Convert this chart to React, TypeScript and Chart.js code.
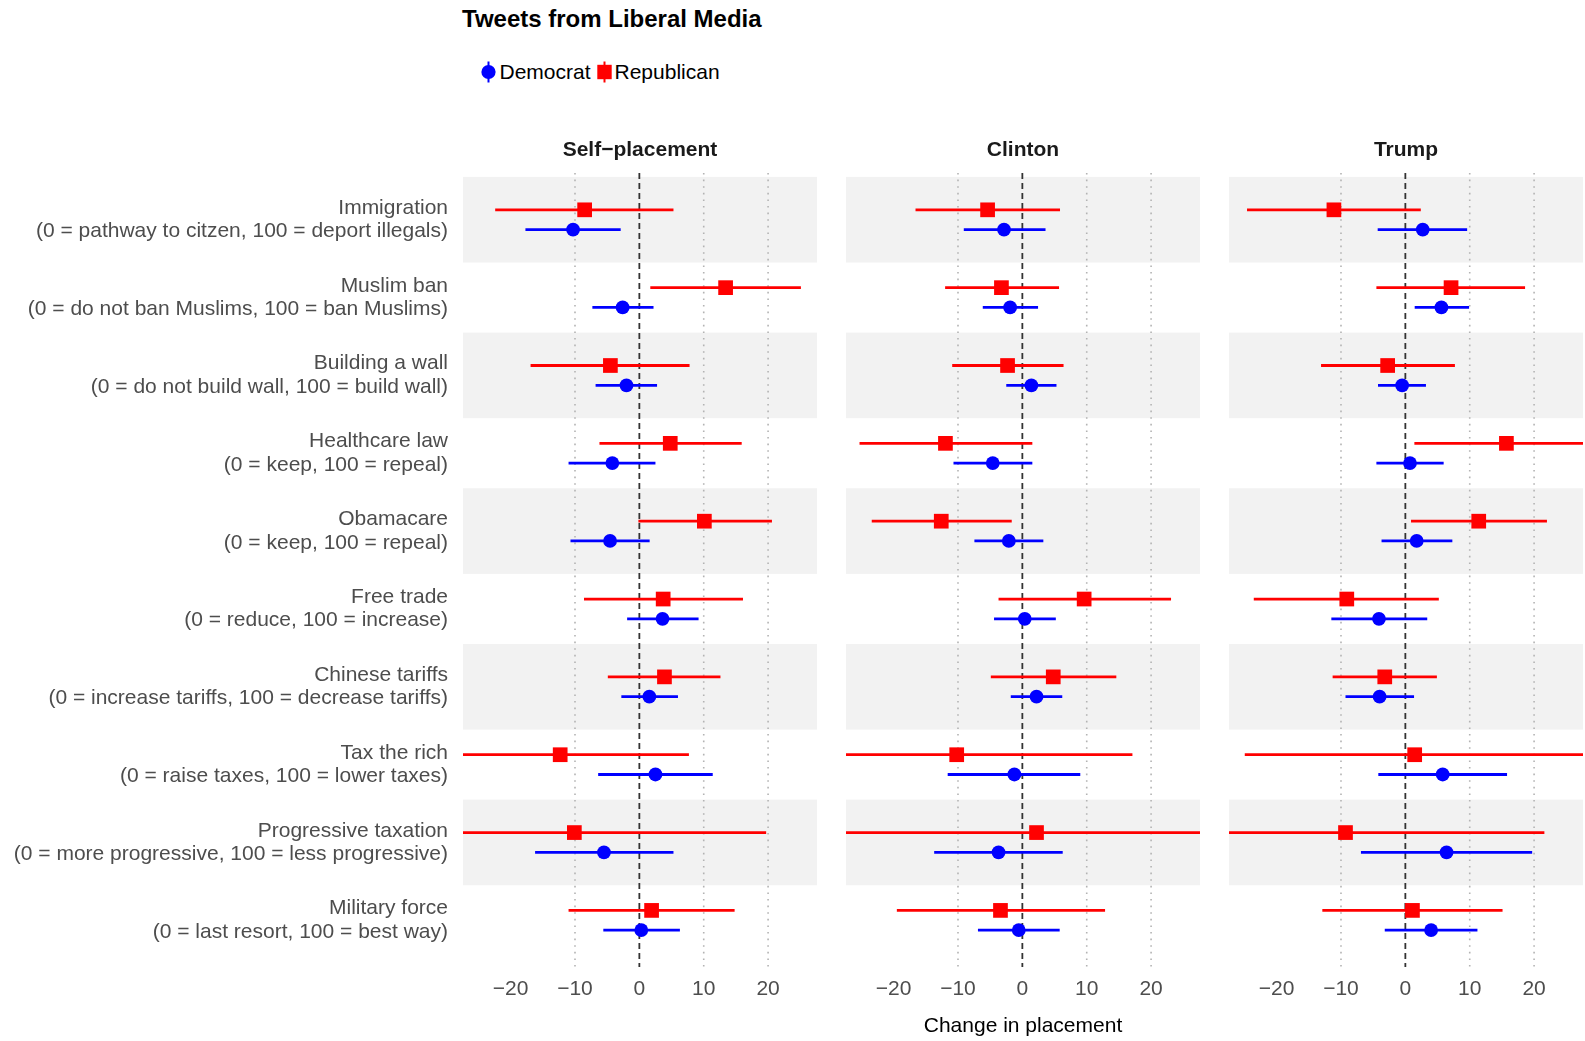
import React, { useEffect, useRef } from 'react';
import { Chart, registerables } from 'chart.js';

Chart.register(...registerables);

const FONT = '"Liberation Sans", Arial, Helvetica, sans-serif';
const RED = '#ff0000';
const BLUE = '#0000ff';

// ---------- data ----------
const issueNames = [
  'Immigration',
  'Muslim ban',
  'Building a wall',
  'Healthcare law',
  'Obamacare',
  'Free trade',
  'Chinese tariffs',
  'Tax the rich',
  'Progressive taxation',
  'Military force',
];
const issueScales = [
  '(0 = pathway to citzen, 100 = deport illegals)',
  '(0 = do not ban Muslims, 100 = ban Muslims)',
  '(0 = do not build wall, 100 = build wall)',
  '(0 = keep, 100 = repeal)',
  '(0 = keep, 100 = repeal)',
  '(0 = reduce, 100 = increase)',
  '(0 = increase tariffs, 100 = decrease tariffs)',
  '(0 = raise taxes, 100 = lower taxes)',
  '(0 = more progressive, 100 = less progressive)',
  '(0 = last resort, 100 = best way)',
];
const panelTitles = ['Self\u2212placement', 'Clinton', 'Trump'];
const seriesNames = ['Democrat', 'Republican'];
const xTicks = [-20, -10, 0, 10, 20];
const dottedRefs = [-10, 10, 20];
const dashedRefs = [0];

// Self-placement
const selfDemEst = [-10.3, -2.6, -2.0, -4.2, -4.55, 3.6, 1.55, 2.5, -5.5, 0.3];
const selfDemLo = [-17.7, -7.3, -6.8, -11.0, -10.7, -1.9, -2.8, -6.4, -16.2, -5.6];
const selfDemHi = [-2.9, 2.2, 2.75, 2.5, 1.6, 9.2, 6.0, 11.4, 5.3, 6.3];
const selfRepEst = [-8.5, 13.4, -4.5, 4.8, 10.1, 3.7, 3.9, -12.3, -10.1, 1.9];
const selfRepLo = [-22.4, 1.7, -16.9, -6.2, -0.15, -8.6, -4.9, -32.3, -39.9, -11.0];
const selfRepHi = [5.3, 25.1, 7.8, 15.9, 20.6, 16.1, 12.6, 7.7, 19.7, 14.8];

// Clinton
const clintonDemEst = [-2.85, -1.9, 1.4, -4.6, -2.1, 0.37, 2.2, -1.24, -3.7, -0.56];
const clintonDemLo = [-9.1, -6.15, -2.5, -10.7, -7.45, -4.4, -1.8, -11.6, -13.7, -6.9];
const clintonDemHi = [3.6, 2.44, 5.3, 1.55, 3.26, 5.2, 6.2, 9.0, 6.27, 5.8];
const clintonRepEst = [-5.4, -3.25, -2.3, -11.95, -12.6, 9.6, 4.8, -10.2, 2.2, -3.4];
const clintonRepLo = [-16.6, -12.0, -10.9, -25.3, -23.4, -3.7, -4.9, -37.5, -29.8, -19.5];
const clintonRepHi = [5.85, 5.7, 6.4, 1.55, -1.65, 23.1, 14.6, 17.1, 34.2, 12.85];

// Trump
const trumpDemEst = [2.7, 5.6, -0.5, 0.72, 1.76, -4.1, -4.0, 5.8, 6.4, 4.0];
const trumpDemLo = [-4.3, 1.45, -4.25, -4.5, -3.7, -11.5, -9.3, -4.2, -6.9, -3.2];
const trumpDemHi = [9.6, 9.9, 3.2, 5.95, 7.3, 3.4, 1.35, 15.8, 19.7, 11.2];
const trumpRepEst = [-11.1, 7.1, -2.75, 15.7, 11.4, -9.1, -3.2, 1.45, -9.3, 1.1];
const trumpRepLo = [-24.6, -4.5, -13.1, 1.4, 0.88, -23.55, -11.3, -24.95, -40.2, -12.9];
const trumpRepHi = [2.4, 18.6, 7.7, 30.0, 22.0, 5.2, 4.9, 27.85, 21.6, 15.1];

const panelData = [
  { demEst: selfDemEst, demLo: selfDemLo, demHi: selfDemHi, repEst: selfRepEst, repLo: selfRepLo, repHi: selfRepHi },
  { demEst: clintonDemEst, demLo: clintonDemLo, demHi: clintonDemHi, repEst: clintonRepEst, repLo: clintonRepLo, repHi: clintonRepHi },
  { demEst: trumpDemEst, demLo: trumpDemLo, demHi: trumpDemHi, repEst: trumpRepEst, repLo: trumpRepLo, repHi: trumpRepHi },
];

// ---------- layout ----------
const X_MIN = -27.4;
const X_MAX = 27.6;
const Y_MIN = 0.4;
const Y_MAX = 10.6;
const DODGE = 0.127;
const BAND_HALF = 0.55;
const CANVAS_TOP = 110;
const CANVAS_H = 931;
const panelBoxes = [
  { left: 0, width: 817, yAxisWidth: 463 },
  { left: 846, width: 354, yAxisWidth: 0 },
  { left: 1229, width: 354, yAxisWidth: 0 },
];

const bandsPlugin = {
  id: 'bands',
  beforeDatasetsDraw(chart: any) {
    const { ctx, chartArea, scales } = chart;
    const y = scales.y;
    ctx.save();
    ctx.fillStyle = '#f2f2f2';
    issueNames.forEach((_, r) => {
      if (r % 2 !== 0) return;
      const t = y.getPixelForValue(r + 1 - BAND_HALF);
      const b = y.getPixelForValue(r + 1 + BAND_HALF);
      ctx.fillRect(chartArea.left, Math.min(t, b), chartArea.width, Math.abs(b - t));
    });
    ctx.restore();
  },
};

function buildConfig(i: number): any {
  const d = panelData[i];
  const datasets: any[] = [];
  datasets.push({
    label: seriesNames[1],
    data: issueNames.map((_, r) => ({ x: d.repEst[r], y: r + 1 - DODGE })),
    showLine: false,
    pointStyle: 'rect',
    pointRadius: 10.4,
    backgroundColor: RED,
    borderWidth: 0,
    order: 0,
  });
  datasets.push({
    label: seriesNames[0],
    data: issueNames.map((_, r) => ({ x: d.demEst[r], y: r + 1 + DODGE })),
    showLine: false,
    pointStyle: 'circle',
    pointRadius: 6.9,
    backgroundColor: BLUE,
    borderWidth: 0,
    order: 0,
  });
  issueNames.forEach((_, r) => {
    datasets.push({
      label: 'rep-ci-' + r,
      data: [
        { x: d.repLo[r], y: r + 1 - DODGE },
        { x: d.repHi[r], y: r + 1 - DODGE },
      ],
      showLine: true,
      borderColor: RED,
      borderWidth: 2.8,
      pointRadius: 0,
      clip: 0,
      order: 1,
    });
    datasets.push({
      label: 'dem-ci-' + r,
      data: [
        { x: d.demLo[r], y: r + 1 + DODGE },
        { x: d.demHi[r], y: r + 1 + DODGE },
      ],
      showLine: true,
      borderColor: BLUE,
      borderWidth: 2.8,
      pointRadius: 0,
      clip: 0,
      order: 1,
    });
  });
  dottedRefs.forEach((v) => {
    datasets.push({
      label: 'grid-' + v,
      data: [
        { x: v, y: Y_MIN },
        { x: v, y: Y_MAX },
      ],
      showLine: true,
      borderColor: '#b3b3b3',
      borderWidth: 1.6,
      borderDash: [1.6, 5],
      pointRadius: 0,
      order: 3,
    });
  });
  dashedRefs.forEach((v) => {
    datasets.push({
      label: 'ref-' + v,
      data: [
        { x: v, y: Y_MIN },
        { x: v, y: Y_MAX },
      ],
      showLine: true,
      borderColor: '#333333',
      borderWidth: 1.8,
      borderDash: [6, 4],
      pointRadius: 0,
      order: 2,
    });
  });

  const box = panelBoxes[i];
  return {
    type: 'scatter',
    data: { datasets },
    plugins: [bandsPlugin],
    options: {
      responsive: false,
      animation: false,
      events: [],
      layout: { padding: 0, autoPadding: false },
      font: { family: FONT },
      plugins: {
        legend: { display: false },
        tooltip: { enabled: false },
        title: {
          display: true,
          text: panelTitles[i],
          fullSize: false,
          color: '#1a1a1a',
          font: { family: FONT, size: 21, weight: 'bold' },
          padding: { top: 27.4, bottom: 10.4 },
        },
      },
      scales: {
        x: {
          type: 'linear',
          position: 'bottom',
          min: X_MIN,
          max: X_MAX,
          afterBuildTicks: (s: any) => {
            s.ticks = xTicks.map((v) => ({ value: v }));
          },
          afterFit: (s: any) => {
            s.height = 74;
          },
          grid: { display: false, drawTicks: false },
          border: { display: false },
          ticks: {
            autoSkip: false,
            maxRotation: 0,
            padding: 10,
            color: '#4d4d4d',
            font: { family: FONT, size: 21 },
            callback: (v: any) => (v < 0 ? '\u2212' + Math.abs(v) : String(v)),
          },
          title: {
            display: i === 1,
            text: 'Change in placement',
            color: '#000000',
            font: { family: FONT, size: 21 },
            padding: { top: 0, bottom: 2 },
          },
        },
        y: {
          type: 'linear',
          position: 'left',
          min: Y_MIN,
          max: Y_MAX,
          reverse: true,
          display: i === 0,
          afterBuildTicks: (s: any) => {
            s.ticks = issueNames.map((_, r) => ({ value: r + 1 }));
          },
          afterFit: box.yAxisWidth
            ? (s: any) => {
                s.width = box.yAxisWidth;
              }
            : undefined,
          grid: { display: false, drawTicks: false },
          border: { display: false },
          ticks: {
            autoSkip: false,
            padding: 15,
            color: '#4d4d4d',
            font: { family: FONT, size: 21, lineHeight: 1.114 },
            callback: (v: any) => [issueNames[v - 1], issueScales[v - 1]],
          },
        },
      },
    },
  };
}

export default function App() {
  const ref0 = useRef<HTMLCanvasElement>(null);
  const ref1 = useRef<HTMLCanvasElement>(null);
  const ref2 = useRef<HTMLCanvasElement>(null);
  const refs = [ref0, ref1, ref2];

  useEffect(() => {
    const charts = refs.map((r, i) => new Chart(r.current as HTMLCanvasElement, buildConfig(i)));
    return () => charts.forEach((c) => c.destroy());
  }, []);

  return (
    <div
      style={{
        position: 'absolute',
        left: 0,
        top: 0,
        width: 1585,
        height: 1041,
        background: '#ffffff',
        fontFamily: FONT,
        overflow: 'hidden',
      }}
    >
      <div
        style={{
          position: 'absolute',
          left: 462,
          top: 6.5,
          fontSize: 24,
          lineHeight: '24px',
          fontWeight: 'bold',
          color: '#000',
          whiteSpace: 'nowrap',
        }}
      >
        Tweets from Liberal Media
      </div>

      <svg style={{ position: 'absolute', left: 479.8, top: 60.7 }} width={17} height={22}>
        <line x1={8.5} y1={0.5} x2={8.5} y2={21.5} stroke={BLUE} strokeWidth={2} />
        <circle cx={8.5} cy={11} r={7.1} fill={BLUE} />
      </svg>
      <div
        style={{
          position: 'absolute',
          left: 499.5,
          top: 60.5,
          fontSize: 21,
          lineHeight: '21px',
          color: '#000',
          whiteSpace: 'nowrap',
        }}
      >
        {seriesNames[0]}
      </div>
      <svg style={{ position: 'absolute', left: 596, top: 60.7 }} width={17} height={22}>
        <line x1={8.5} y1={0.5} x2={8.5} y2={21.5} stroke={RED} strokeWidth={2} />
        <rect x={1.3} y={3.8} width={14.4} height={14.4} fill={RED} />
      </svg>
      <div
        style={{
          position: 'absolute',
          left: 614.5,
          top: 60.5,
          fontSize: 21,
          lineHeight: '21px',
          color: '#000',
          whiteSpace: 'nowrap',
        }}
      >
        {seriesNames[1]}
      </div>

      {panelBoxes.map((b, i) => (
        <canvas
          key={i}
          ref={refs[i]}
          width={b.width}
          height={CANVAS_H}
          style={{
            position: 'absolute',
            left: b.left,
            top: CANVAS_TOP,
            width: b.width,
            height: CANVAS_H,
          }}
        />
      ))}
    </div>
  );
}
